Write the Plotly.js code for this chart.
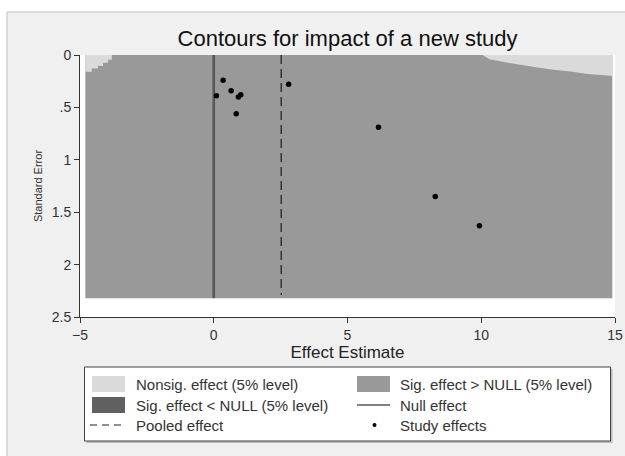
<!DOCTYPE html>
<html><head><meta charset="utf-8">
<script src="https://cdn.plot.ly/plotly-3.0.1.min.js"></script>
<style>html,body{margin:0;padding:0;background:#fff}#chart{width:625px;height:456px}</style>
</head><body><div id="chart"></div>
<script>
// Study effects
var studyEffect = [0.10, 0.35, 0.65, 0.92, 1.01, 0.84, 2.80, 6.16, 8.28, 9.93];
var studySE     = [0.39, 0.24, 0.34, 0.40, 0.38, 0.56, 0.28, 0.69, 1.35, 1.63];
// Reference lines
var nullEffect = 0;
var pooledEffect = 2.52;
// Contour regions (effect estimate, standard error)
var sigUpperX = [-4.8, 14.9, 14.9, -4.8];
var sigUpperY = [0, 0, 2.32, 2.32];
var nonsigX = [-4.8, -4.8, -4.56, -4.56, -4.33, -4.33, -4.14, -4.14, -3.95, -3.95, -3.81, -3.81, null,
               10.05, 10.3, 10.9, 11.4, 12.1, 12.7, 13.4, 13.9, 14.9, 14.9];
var nonsigY = [0, 0.16, 0.16, 0.13, 0.13, 0.105, 0.105, 0.075, 0.075, 0.045, 0.045, 0, null,
               0, 0.04, 0.07, 0.09, 0.12, 0.14, 0.16, 0.18, 0.20, 0];
var lineTop = 0, nullLineBottom = 2.32, pooledLineBottom = 2.29;
var xTicks = [-5, 0, 5, 10, 15];
var yTicks = [0, 0.5, 1, 1.5, 2, 2.5];
var yTickText = ['0', '.5', '1', '1.5', '2', '2.5'];
// Legend entries (label, key type)
var legendLabels = ['Nonsig. effect (5% level)', 'Sig. effect > NULL (5% level)',
                    'Sig. effect < NULL (5% level)', 'Null effect',
                    'Pooled effect', 'Study effects'];
var legendKinds  = ['box', 'box', 'box', 'line', 'dash', 'dot'];
var colNonsig = '#dadada', colSigUp = '#999999', colSigLow = '#606060', colNull = '#585858';

var F = 'Liberation Sans, Arial, sans-serif';
var M = {l: 80, r: 10, t: 55, b: 139};
var W = 625, H = 456, PW = W - M.l - M.r, PH = H - M.t - M.b;
function px(x) { return (x - M.l) / PW; }
function py(y) { return (H - M.b - y) / PH; }

var data = [
  {x: sigUpperX, y: sigUpperY, type: 'scatter', mode: 'none', fill: 'toself',
   fillcolor: colSigUp, name: legendLabels[1], hoverinfo: 'skip'},
  {x: nonsigX, y: nonsigY, type: 'scatter', mode: 'none', fill: 'toself',
   fillcolor: colNonsig, name: legendLabels[0], hoverinfo: 'skip'},
  {x: [nullEffect, nullEffect], y: [lineTop, nullLineBottom], type: 'scatter', mode: 'lines',
   line: {color: colNull, width: 2.6}, name: legendLabels[3]},
  {x: [pooledEffect, pooledEffect], y: [lineTop, pooledLineBottom], type: 'scatter', mode: 'lines',
   line: {color: '#000', width: 1, dash: '9px,5px'}, name: legendLabels[4]},
  {x: studyEffect, y: studySE, type: 'scatter', mode: 'markers',
   marker: {color: '#000', size: 5.5}, name: legendLabels[5]}
];

var shapes = [
  {type: 'rect', xref: 'paper', yref: 'paper', x0: px(-5), x1: px(630), y0: py(11.5), y1: py(-5),
   fillcolor: '#fff', line: {width: 0}, layer: 'above'},
  {type: 'rect', xref: 'paper', yref: 'paper', x0: px(-5), x1: px(6.5), y0: py(460), y1: py(-5),
   fillcolor: '#fff', line: {width: 0}, layer: 'above'},
  {type: 'line', xref: 'paper', yref: 'paper', x0: px(7), x1: px(630), y0: py(12), y1: py(12),
   line: {color: '#c4c4c4', width: 1}, layer: 'above'},
  {type: 'line', xref: 'paper', yref: 'paper', x0: px(7), x1: px(7), y0: py(12), y1: py(460),
   line: {color: '#c4c4c4', width: 1}, layer: 'above'},
  // legend frame with shadow
  {type: 'rect', xref: 'paper', yref: 'paper', x0: px(86.5), x1: px(612.5), y0: py(369), y1: py(443),
   fillcolor: '#bcbcbc', line: {width: 0}, layer: 'above'},
  {type: 'rect', xref: 'paper', yref: 'paper', x0: px(84.5), x1: px(610.5), y0: py(367), y1: py(441),
   fillcolor: '#fff', line: {color: '#444', width: 1}, layer: 'above'}
];
var annotations = [];
var rowY = [384, 405, 425];
var colKeyX = [92, 357], colTextX = [134, 398];
var keyFill = {0: colNonsig, 1: colSigUp, 2: colSigLow};
legendLabels.forEach(function (lab, i) {
  var r = Math.floor(i / 2), c = i % 2, cy = rowY[r], kx = colKeyX[c];
  var k = legendKinds[i];
  if (k === 'box') {
    shapes.push({type: 'rect', xref: 'paper', yref: 'paper', x0: px(kx), x1: px(kx + 33),
                 y0: py(cy + 8), y1: py(cy - 8), fillcolor: keyFill[i], line: {width: 0}, layer: 'above'});
  } else if (k === 'line') {
    shapes.push({type: 'line', xref: 'paper', yref: 'paper', x0: px(kx), x1: px(kx + 33),
                 y0: py(cy), y1: py(cy), line: {color: colNull, width: 1.6}, layer: 'above'});
  } else if (k === 'dash') {
    shapes.push({type: 'line', xref: 'paper', yref: 'paper', x0: px(kx - 2), x1: px(kx + 33),
                 y0: py(cy), y1: py(cy), line: {color: '#222', width: 1.2, dash: '7px,5px'}, layer: 'above'});
  } else {
    shapes.push({type: 'circle', xref: 'paper', yref: 'paper', x0: px(kx + 15.5), x1: px(kx + 19.5),
                 y0: py(cy + 2), y1: py(cy - 2), fillcolor: '#000', line: {width: 0}, layer: 'above'});
  }
  annotations.push({xref: 'paper', yref: 'paper', x: px(colTextX[c]), y: py(cy), xanchor: 'left',
                    yanchor: 'middle', showarrow: false, text: lab,
                    font: {family: F, size: 15, color: '#333'}});
});

var layout = {
  width: W, height: H, margin: M,
  paper_bgcolor: '#f0f0f0', plot_bgcolor: '#ffffff',
  font: {family: F, color: '#222', size: 12},
  showlegend: false,
  title: {text: 'Contours for impact of a new study', font: {family: F, size: 22, color: '#111'},
          x: 0.5, xref: 'paper', xanchor: 'center', y: 1 - 38 / H, yref: 'container', yanchor: 'middle'},
  xaxis: {range: [-5, 15], tickvals: xTicks, ticks: 'outside', ticklen: 5, tickcolor: '#333',
          showline: true, linecolor: '#333', linewidth: 1, showgrid: false, zeroline: false,
          tickfont: {size: 14, color: '#333'},
          title: {text: 'Effect Estimate', font: {size: 17, color: '#222'}, standoff: 0}},
  yaxis: {range: [2.5, 0], tickvals: yTicks, ticktext: yTickText, ticks: 'outside', ticklen: 5,
          tickcolor: '#333', showline: true, linecolor: '#333', linewidth: 1, showgrid: false,
          zeroline: false, tickfont: {size: 14, color: '#333'},
          title: {text: 'Standard Error', font: {size: 11, color: '#333'}, standoff: 6}},
  shapes: shapes,
  annotations: annotations
};
Plotly.newPlot('chart', data, layout, {staticPlot: true});
</script>
</body></html>
